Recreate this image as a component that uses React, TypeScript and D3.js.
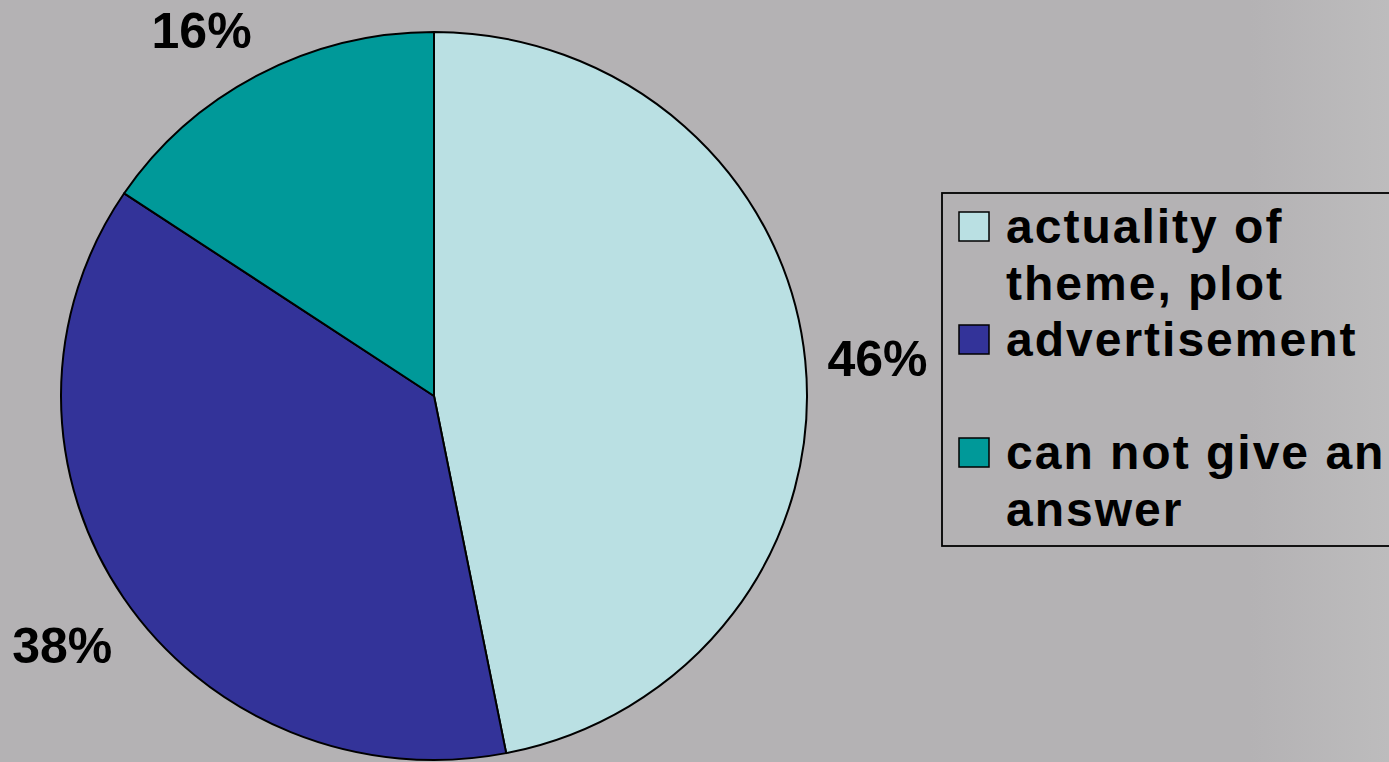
import React from "react";
import * as d3 from "d3";

const categories = ["actuality of theme, plot", "advertisement", "can not give an answer"];
const legendLines = [["actuality of", "theme, plot"], ["advertisement", ""], ["can not give an", "answer"]];
const values = [46.9, 37.5, 15.6];
const valueLabels = ["46%", "38%", "16%"];
const colors = ["#bae0e3", "#333399", "#009999"];

const W = 1389;
const H = 762;

export default function App() {
  const cx = 434;
  const cy = 396;
  const ry = 364;
  const rx = 373;
  const sx = rx / ry;

  const pie = d3.pie<number>().sort(null).startAngle(0).endAngle(2 * Math.PI)(values);
  const arc = d3.arc<d3.PieArcDatum<number>>().innerRadius(0).outerRadius(ry);
  const labelR = 430;
  const nudges = [
    [5, 5],
    [-5, 12],
    [-25, 14],
  ];

  return (
    <svg
      width={W}
      height={H}
      style={{ position: "fixed", left: 0, top: 0, display: "block" }}
      fontFamily="'Liberation Sans', Arial, sans-serif"
    >
      <defs>
        <linearGradient id="bg" x1="0" x2="1" y1="0" y2="0">
          <stop offset="0" stopColor="#b4b2b4" />
          <stop offset="0.9" stopColor="#b4b2b4" />
          <stop offset="1" stopColor="#bdbcbd" />
        </linearGradient>
      </defs>
      <rect x={0} y={0} width={W} height={H} fill="url(#bg)" />
      <g transform={`translate(${cx},${cy}) scale(${sx},1)`}>
        {pie.map((d, i) => (
          <path
            key={categories[i]}
            d={arc(d) || ""}
            fill={colors[i]}
            stroke="#000"
            strokeWidth={2}
            vectorEffect="non-scaling-stroke"
            strokeLinejoin="round"
          />
        ))}
      </g>
      {pie.map((d, i) => {
        const mid = (d.startAngle + d.endAngle) / 2;
        const x = cx + Math.sin(mid) * labelR * sx + nudges[i][0];
        const y = cy - Math.cos(mid) * labelR + nudges[i][1];
        return (
          <text
            key={valueLabels[i]}
            x={x}
            y={y}
            textAnchor="middle"
            dominantBaseline="central"
            fontSize={50}
            fontWeight="bold"
            fill="#000"
          >
            {valueLabels[i]}
          </text>
        );
      })}
      <rect x={942} y={193} width={480} height={353} fill="none" stroke="#000" strokeWidth={1.8} />
      {legendLines.map((lines, i) => {
        const y0 = 243 + i * 113;
        return (
          <g key={categories[i]}>
            <rect x={959} y={y0 - 31} width={30} height={29} fill={colors[i]} stroke="#000" strokeWidth={1.5} />
            {lines.map((ln, j) => (
              <text
                key={j}
                x={1006}
                y={y0 + j * 57}
                fontSize={48}
                fontWeight="bold"
                letterSpacing={2}
                fill="#000"
              >
                {ln}
              </text>
            ))}
          </g>
        );
      })}
    </svg>
  );
}
